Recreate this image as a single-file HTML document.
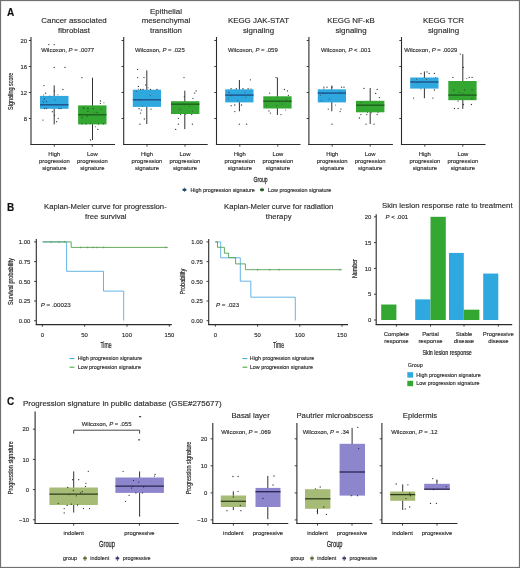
<!DOCTYPE html>
<html><head><meta charset="utf-8"><style>
html,body{margin:0;padding:0;background:#fff;}
body{width:520px;height:568px;overflow:hidden;}
svg{display:block;font-family:"Liberation Sans",sans-serif;will-change:transform;filter:blur(0.3px);}
</style></head><body>
<svg width="520" height="568" viewBox="0 0 520 568">
<rect x="0" y="0" width="520" height="568" fill="#fff"/>
<text x="7.00" y="16.00" font-size="10" text-anchor="start" fill="#111" font-weight="bold" font-style="normal" stroke="#111" stroke-width="0.14">A</text>
<text x="74.00" y="23.10" font-size="7.9" text-anchor="middle" fill="#2a2a2a" font-weight="normal" font-style="normal" stroke="#2a2a2a" stroke-width="0.14">Cancer associated</text>
<text x="74.00" y="32.50" font-size="7.9" text-anchor="middle" fill="#2a2a2a" font-weight="normal" font-style="normal" stroke="#2a2a2a" stroke-width="0.14">fibroblast</text>
<text x="166.00" y="13.70" font-size="7.9" text-anchor="middle" fill="#2a2a2a" font-weight="normal" font-style="normal" stroke="#2a2a2a" stroke-width="0.14">Epithelial</text>
<text x="166.00" y="23.10" font-size="7.9" text-anchor="middle" fill="#2a2a2a" font-weight="normal" font-style="normal" stroke="#2a2a2a" stroke-width="0.14">mesenchymal</text>
<text x="166.00" y="32.50" font-size="7.9" text-anchor="middle" fill="#2a2a2a" font-weight="normal" font-style="normal" stroke="#2a2a2a" stroke-width="0.14">transition</text>
<text x="258.50" y="23.10" font-size="7.9" text-anchor="middle" fill="#2a2a2a" font-weight="normal" font-style="normal" stroke="#2a2a2a" stroke-width="0.14">KEGG JAK-STAT</text>
<text x="258.50" y="32.50" font-size="7.9" text-anchor="middle" fill="#2a2a2a" font-weight="normal" font-style="normal" stroke="#2a2a2a" stroke-width="0.14">signaling</text>
<text x="351.00" y="23.10" font-size="7.9" text-anchor="middle" fill="#2a2a2a" font-weight="normal" font-style="normal" stroke="#2a2a2a" stroke-width="0.14">KEGG NF-κB</text>
<text x="351.00" y="32.50" font-size="7.9" text-anchor="middle" fill="#2a2a2a" font-weight="normal" font-style="normal" stroke="#2a2a2a" stroke-width="0.14">signaling</text>
<text x="443.50" y="23.10" font-size="7.9" text-anchor="middle" fill="#2a2a2a" font-weight="normal" font-style="normal" stroke="#2a2a2a" stroke-width="0.14">KEGG TCR</text>
<text x="443.50" y="32.50" font-size="7.9" text-anchor="middle" fill="#2a2a2a" font-weight="normal" font-style="normal" stroke="#2a2a2a" stroke-width="0.14">signaling</text>
<line x1="31.00" y1="37.00" x2="31.00" y2="145.00" stroke="#2b2b2b" stroke-width="1.1"/>
<line x1="30.45" y1="144.50" x2="115.00" y2="144.50" stroke="#2b2b2b" stroke-width="1.1"/>
<line x1="28.80" y1="40.50" x2="31.00" y2="40.50" stroke="#2b2b2b" stroke-width="0.9"/>
<text x="27.00" y="42.60" font-size="5.9" text-anchor="end" fill="#2a2a2a" font-weight="normal" font-style="normal" stroke="#2a2a2a" stroke-width="0.14">20</text>
<line x1="28.80" y1="66.50" x2="31.00" y2="66.50" stroke="#2b2b2b" stroke-width="0.9"/>
<text x="27.00" y="68.60" font-size="5.9" text-anchor="end" fill="#2a2a2a" font-weight="normal" font-style="normal" stroke="#2a2a2a" stroke-width="0.14">16</text>
<line x1="28.80" y1="92.50" x2="31.00" y2="92.50" stroke="#2b2b2b" stroke-width="0.9"/>
<text x="27.00" y="94.60" font-size="5.9" text-anchor="end" fill="#2a2a2a" font-weight="normal" font-style="normal" stroke="#2a2a2a" stroke-width="0.14">12</text>
<line x1="28.80" y1="118.50" x2="31.00" y2="118.50" stroke="#2b2b2b" stroke-width="0.9"/>
<text x="27.00" y="120.60" font-size="5.9" text-anchor="end" fill="#2a2a2a" font-weight="normal" font-style="normal" stroke="#2a2a2a" stroke-width="0.14">8</text>
<line x1="54.30" y1="144.50" x2="54.30" y2="146.60" stroke="#2b2b2b" stroke-width="0.9"/>
<text x="54.30" y="155.50" font-size="5.9" text-anchor="middle" fill="#2a2a2a" font-weight="normal" font-style="normal" stroke="#2a2a2a" stroke-width="0.14">High</text>
<text x="54.30" y="162.80" font-size="5.9" text-anchor="middle" fill="#2a2a2a" font-weight="normal" font-style="normal" stroke="#2a2a2a" stroke-width="0.14">progression</text>
<text x="54.30" y="170.00" font-size="5.9" text-anchor="middle" fill="#2a2a2a" font-weight="normal" font-style="normal" stroke="#2a2a2a" stroke-width="0.14">signature</text>
<line x1="92.30" y1="144.50" x2="92.30" y2="146.60" stroke="#2b2b2b" stroke-width="0.9"/>
<text x="92.30" y="155.50" font-size="5.9" text-anchor="middle" fill="#2a2a2a" font-weight="normal" font-style="normal" stroke="#2a2a2a" stroke-width="0.14">Low</text>
<text x="92.30" y="162.80" font-size="5.9" text-anchor="middle" fill="#2a2a2a" font-weight="normal" font-style="normal" stroke="#2a2a2a" stroke-width="0.14">progression</text>
<text x="92.30" y="170.00" font-size="5.9" text-anchor="middle" fill="#2a2a2a" font-weight="normal" font-style="normal" stroke="#2a2a2a" stroke-width="0.14">signature</text>
<line x1="123.70" y1="37.00" x2="123.70" y2="145.00" stroke="#2b2b2b" stroke-width="1.1"/>
<line x1="123.15" y1="144.50" x2="207.70" y2="144.50" stroke="#2b2b2b" stroke-width="1.1"/>
<line x1="121.50" y1="40.50" x2="123.70" y2="40.50" stroke="#2b2b2b" stroke-width="0.9"/>
<line x1="121.50" y1="66.50" x2="123.70" y2="66.50" stroke="#2b2b2b" stroke-width="0.9"/>
<line x1="121.50" y1="92.50" x2="123.70" y2="92.50" stroke="#2b2b2b" stroke-width="0.9"/>
<line x1="121.50" y1="118.50" x2="123.70" y2="118.50" stroke="#2b2b2b" stroke-width="0.9"/>
<line x1="147.00" y1="144.50" x2="147.00" y2="146.60" stroke="#2b2b2b" stroke-width="0.9"/>
<text x="147.00" y="155.50" font-size="5.9" text-anchor="middle" fill="#2a2a2a" font-weight="normal" font-style="normal" stroke="#2a2a2a" stroke-width="0.14">High</text>
<text x="147.00" y="162.80" font-size="5.9" text-anchor="middle" fill="#2a2a2a" font-weight="normal" font-style="normal" stroke="#2a2a2a" stroke-width="0.14">progression</text>
<text x="147.00" y="170.00" font-size="5.9" text-anchor="middle" fill="#2a2a2a" font-weight="normal" font-style="normal" stroke="#2a2a2a" stroke-width="0.14">signature</text>
<line x1="185.00" y1="144.50" x2="185.00" y2="146.60" stroke="#2b2b2b" stroke-width="0.9"/>
<text x="185.00" y="155.50" font-size="5.9" text-anchor="middle" fill="#2a2a2a" font-weight="normal" font-style="normal" stroke="#2a2a2a" stroke-width="0.14">Low</text>
<text x="185.00" y="162.80" font-size="5.9" text-anchor="middle" fill="#2a2a2a" font-weight="normal" font-style="normal" stroke="#2a2a2a" stroke-width="0.14">progression</text>
<text x="185.00" y="170.00" font-size="5.9" text-anchor="middle" fill="#2a2a2a" font-weight="normal" font-style="normal" stroke="#2a2a2a" stroke-width="0.14">signature</text>
<line x1="216.50" y1="37.00" x2="216.50" y2="145.00" stroke="#2b2b2b" stroke-width="1.1"/>
<line x1="215.95" y1="144.50" x2="300.50" y2="144.50" stroke="#2b2b2b" stroke-width="1.1"/>
<line x1="214.30" y1="40.50" x2="216.50" y2="40.50" stroke="#2b2b2b" stroke-width="0.9"/>
<line x1="214.30" y1="66.50" x2="216.50" y2="66.50" stroke="#2b2b2b" stroke-width="0.9"/>
<line x1="214.30" y1="92.50" x2="216.50" y2="92.50" stroke="#2b2b2b" stroke-width="0.9"/>
<line x1="214.30" y1="118.50" x2="216.50" y2="118.50" stroke="#2b2b2b" stroke-width="0.9"/>
<line x1="239.80" y1="144.50" x2="239.80" y2="146.60" stroke="#2b2b2b" stroke-width="0.9"/>
<text x="239.80" y="155.50" font-size="5.9" text-anchor="middle" fill="#2a2a2a" font-weight="normal" font-style="normal" stroke="#2a2a2a" stroke-width="0.14">High</text>
<text x="239.80" y="162.80" font-size="5.9" text-anchor="middle" fill="#2a2a2a" font-weight="normal" font-style="normal" stroke="#2a2a2a" stroke-width="0.14">progression</text>
<text x="239.80" y="170.00" font-size="5.9" text-anchor="middle" fill="#2a2a2a" font-weight="normal" font-style="normal" stroke="#2a2a2a" stroke-width="0.14">signature</text>
<line x1="277.80" y1="144.50" x2="277.80" y2="146.60" stroke="#2b2b2b" stroke-width="0.9"/>
<text x="277.80" y="155.50" font-size="5.9" text-anchor="middle" fill="#2a2a2a" font-weight="normal" font-style="normal" stroke="#2a2a2a" stroke-width="0.14">Low</text>
<text x="277.80" y="162.80" font-size="5.9" text-anchor="middle" fill="#2a2a2a" font-weight="normal" font-style="normal" stroke="#2a2a2a" stroke-width="0.14">progression</text>
<text x="277.80" y="170.00" font-size="5.9" text-anchor="middle" fill="#2a2a2a" font-weight="normal" font-style="normal" stroke="#2a2a2a" stroke-width="0.14">signature</text>
<line x1="308.90" y1="37.00" x2="308.90" y2="145.00" stroke="#2b2b2b" stroke-width="1.1"/>
<line x1="308.35" y1="144.50" x2="392.90" y2="144.50" stroke="#2b2b2b" stroke-width="1.1"/>
<line x1="306.70" y1="40.50" x2="308.90" y2="40.50" stroke="#2b2b2b" stroke-width="0.9"/>
<line x1="306.70" y1="66.50" x2="308.90" y2="66.50" stroke="#2b2b2b" stroke-width="0.9"/>
<line x1="306.70" y1="92.50" x2="308.90" y2="92.50" stroke="#2b2b2b" stroke-width="0.9"/>
<line x1="306.70" y1="118.50" x2="308.90" y2="118.50" stroke="#2b2b2b" stroke-width="0.9"/>
<line x1="332.20" y1="144.50" x2="332.20" y2="146.60" stroke="#2b2b2b" stroke-width="0.9"/>
<text x="332.20" y="155.50" font-size="5.9" text-anchor="middle" fill="#2a2a2a" font-weight="normal" font-style="normal" stroke="#2a2a2a" stroke-width="0.14">High</text>
<text x="332.20" y="162.80" font-size="5.9" text-anchor="middle" fill="#2a2a2a" font-weight="normal" font-style="normal" stroke="#2a2a2a" stroke-width="0.14">progression</text>
<text x="332.20" y="170.00" font-size="5.9" text-anchor="middle" fill="#2a2a2a" font-weight="normal" font-style="normal" stroke="#2a2a2a" stroke-width="0.14">signature</text>
<line x1="370.20" y1="144.50" x2="370.20" y2="146.60" stroke="#2b2b2b" stroke-width="0.9"/>
<text x="370.20" y="155.50" font-size="5.9" text-anchor="middle" fill="#2a2a2a" font-weight="normal" font-style="normal" stroke="#2a2a2a" stroke-width="0.14">Low</text>
<text x="370.20" y="162.80" font-size="5.9" text-anchor="middle" fill="#2a2a2a" font-weight="normal" font-style="normal" stroke="#2a2a2a" stroke-width="0.14">progression</text>
<text x="370.20" y="170.00" font-size="5.9" text-anchor="middle" fill="#2a2a2a" font-weight="normal" font-style="normal" stroke="#2a2a2a" stroke-width="0.14">signature</text>
<line x1="401.50" y1="37.00" x2="401.50" y2="145.00" stroke="#2b2b2b" stroke-width="1.1"/>
<line x1="400.95" y1="144.50" x2="485.50" y2="144.50" stroke="#2b2b2b" stroke-width="1.1"/>
<line x1="399.30" y1="40.50" x2="401.50" y2="40.50" stroke="#2b2b2b" stroke-width="0.9"/>
<line x1="399.30" y1="66.50" x2="401.50" y2="66.50" stroke="#2b2b2b" stroke-width="0.9"/>
<line x1="399.30" y1="92.50" x2="401.50" y2="92.50" stroke="#2b2b2b" stroke-width="0.9"/>
<line x1="399.30" y1="118.50" x2="401.50" y2="118.50" stroke="#2b2b2b" stroke-width="0.9"/>
<line x1="424.80" y1="144.50" x2="424.80" y2="146.60" stroke="#2b2b2b" stroke-width="0.9"/>
<text x="424.80" y="155.50" font-size="5.9" text-anchor="middle" fill="#2a2a2a" font-weight="normal" font-style="normal" stroke="#2a2a2a" stroke-width="0.14">High</text>
<text x="424.80" y="162.80" font-size="5.9" text-anchor="middle" fill="#2a2a2a" font-weight="normal" font-style="normal" stroke="#2a2a2a" stroke-width="0.14">progression</text>
<text x="424.80" y="170.00" font-size="5.9" text-anchor="middle" fill="#2a2a2a" font-weight="normal" font-style="normal" stroke="#2a2a2a" stroke-width="0.14">signature</text>
<line x1="462.80" y1="144.50" x2="462.80" y2="146.60" stroke="#2b2b2b" stroke-width="0.9"/>
<text x="462.80" y="155.50" font-size="5.9" text-anchor="middle" fill="#2a2a2a" font-weight="normal" font-style="normal" stroke="#2a2a2a" stroke-width="0.14">Low</text>
<text x="462.80" y="162.80" font-size="5.9" text-anchor="middle" fill="#2a2a2a" font-weight="normal" font-style="normal" stroke="#2a2a2a" stroke-width="0.14">progression</text>
<text x="462.80" y="170.00" font-size="5.9" text-anchor="middle" fill="#2a2a2a" font-weight="normal" font-style="normal" stroke="#2a2a2a" stroke-width="0.14">signature</text>
<text transform="translate(12.90,91.30) rotate(-90) scale(0.78,1)" font-size="7" text-anchor="middle" fill="#2a2a2a" font-weight="normal" stroke="#2a2a2a" stroke-width="0.2">Signaling score</text>
<text x="41.20" y="52.00" font-size="5.95" fill="#2a2a2a" text-anchor="start" stroke="#2a2a2a" stroke-width="0.14">Wilcoxon, <tspan font-style="italic">P</tspan> = .0077</text>
<text x="135.00" y="52.00" font-size="5.95" fill="#2a2a2a" text-anchor="start" stroke="#2a2a2a" stroke-width="0.14">Wilcoxon, <tspan font-style="italic">P</tspan> = .025</text>
<text x="228.00" y="52.00" font-size="5.95" fill="#2a2a2a" text-anchor="start" stroke="#2a2a2a" stroke-width="0.14">Wilcoxon, <tspan font-style="italic">P</tspan> = .059</text>
<text x="321.00" y="52.00" font-size="5.95" fill="#2a2a2a" text-anchor="start" stroke="#2a2a2a" stroke-width="0.14">Wilcoxon, <tspan font-style="italic">P</tspan> &lt; .001</text>
<text x="404.30" y="52.00" font-size="5.95" fill="#2a2a2a" text-anchor="start" stroke="#2a2a2a" stroke-width="0.14">Wilcoxon, <tspan font-style="italic">P</tspan> = .0029</text>
<line x1="54.20" y1="85.40" x2="54.20" y2="124.40" stroke="#333" stroke-width="1.0"/>
<rect x="40.00" y="95.90" width="28.50" height="12.90" fill="#2fa8e0"/>
<line x1="40.00" y1="104.80" x2="68.50" y2="104.80" stroke="#1b4a80" stroke-width="1.3"/>
<circle cx="49.93" cy="96.04" r="0.5" fill="#444"/>
<circle cx="57.95" cy="94.63" r="0.5" fill="#444"/>
<circle cx="55.13" cy="99.92" r="0.5" fill="#444"/>
<circle cx="43.42" cy="102.48" r="0.5" fill="#444"/>
<circle cx="42.92" cy="101.15" r="0.5" fill="#444"/>
<circle cx="43.71" cy="94.96" r="0.5" fill="#444"/>
<circle cx="48.80" cy="44.60" r="0.65" fill="#333"/>
<circle cx="54.20" cy="44.60" r="0.65" fill="#333"/>
<circle cx="54.20" cy="67.40" r="0.65" fill="#333"/>
<circle cx="65.00" cy="67.40" r="0.65" fill="#333"/>
<circle cx="43.90" cy="85.60" r="0.65" fill="#333"/>
<circle cx="62.90" cy="89.50" r="0.65" fill="#333"/>
<circle cx="45.50" cy="93.20" r="0.65" fill="#333"/>
<circle cx="54.50" cy="91.10" r="0.65" fill="#333"/>
<circle cx="42.90" cy="120.10" r="0.65" fill="#333"/>
<circle cx="58.20" cy="118.30" r="0.65" fill="#333"/>
<circle cx="56.60" cy="121.70" r="0.65" fill="#333"/>
<circle cx="52.40" cy="111.70" r="0.65" fill="#333"/>
<circle cx="54.50" cy="115.40" r="0.65" fill="#333"/>
<circle cx="44.40" cy="99.00" r="0.65" fill="#1b4a80"/>
<circle cx="46.50" cy="101.60" r="0.65" fill="#1b4a80"/>
<circle cx="44.40" cy="108.50" r="0.65" fill="#1b4a80"/>
<circle cx="46.50" cy="108.50" r="0.65" fill="#1b4a80"/>
<circle cx="59.00" cy="108.50" r="0.65" fill="#1b4a80"/>
<circle cx="61.00" cy="108.50" r="0.65" fill="#1b4a80"/>
<line x1="92.50" y1="77.70" x2="92.50" y2="140.00" stroke="#333" stroke-width="1.0"/>
<rect x="78.10" y="105.40" width="28.40" height="19.00" fill="#34a732"/>
<line x1="78.10" y1="114.80" x2="106.50" y2="114.80" stroke="#1d5a1d" stroke-width="1.3"/>
<circle cx="90.46" cy="123.59" r="0.5" fill="#444"/>
<circle cx="83.12" cy="107.54" r="0.5" fill="#444"/>
<circle cx="95.41" cy="126.81" r="0.5" fill="#444"/>
<circle cx="94.18" cy="112.15" r="0.5" fill="#444"/>
<circle cx="103.92" cy="102.84" r="0.5" fill="#444"/>
<circle cx="101.05" cy="109.30" r="0.5" fill="#444"/>
<circle cx="81.90" cy="77.70" r="0.65" fill="#333"/>
<circle cx="100.40" cy="101.00" r="0.65" fill="#333"/>
<circle cx="100.40" cy="103.30" r="0.65" fill="#333"/>
<circle cx="83.90" cy="108.50" r="0.65" fill="#1d5a1d"/>
<circle cx="87.90" cy="108.50" r="0.65" fill="#1d5a1d"/>
<circle cx="93.10" cy="108.50" r="0.65" fill="#1d5a1d"/>
<circle cx="87.90" cy="111.20" r="0.65" fill="#1d5a1d"/>
<circle cx="97.10" cy="112.50" r="0.65" fill="#1d5a1d"/>
<circle cx="81.90" cy="117.50" r="0.65" fill="#1d5a1d"/>
<circle cx="87.20" cy="116.20" r="0.65" fill="#1d5a1d"/>
<circle cx="81.90" cy="123.90" r="0.65" fill="#1d5a1d"/>
<circle cx="85.90" cy="123.90" r="0.65" fill="#1d5a1d"/>
<circle cx="98.40" cy="123.90" r="0.65" fill="#1d5a1d"/>
<circle cx="103.30" cy="123.90" r="0.65" fill="#1d5a1d"/>
<circle cx="97.80" cy="129.40" r="0.65" fill="#333"/>
<circle cx="90.50" cy="140.00" r="0.65" fill="#333"/>
<line x1="146.80" y1="70.40" x2="146.80" y2="124.00" stroke="#333" stroke-width="1.0"/>
<rect x="132.80" y="89.70" width="28.20" height="17.20" fill="#2fa8e0"/>
<line x1="132.80" y1="99.80" x2="161.00" y2="99.80" stroke="#1b4a80" stroke-width="1.3"/>
<circle cx="138.29" cy="89.10" r="0.5" fill="#444"/>
<circle cx="142.27" cy="105.91" r="0.5" fill="#444"/>
<circle cx="139.17" cy="100.26" r="0.5" fill="#444"/>
<circle cx="150.26" cy="95.23" r="0.5" fill="#444"/>
<circle cx="148.06" cy="87.77" r="0.5" fill="#444"/>
<circle cx="136.24" cy="91.22" r="0.5" fill="#444"/>
<circle cx="137.60" cy="69.40" r="0.65" fill="#333"/>
<circle cx="137.60" cy="77.60" r="0.65" fill="#333"/>
<circle cx="144.00" cy="77.60" r="0.65" fill="#333"/>
<circle cx="138.40" cy="86.40" r="0.65" fill="#333"/>
<circle cx="145.80" cy="85.00" r="0.65" fill="#333"/>
<circle cx="139.10" cy="108.70" r="0.65" fill="#333"/>
<circle cx="141.30" cy="110.10" r="0.65" fill="#333"/>
<circle cx="151.00" cy="109.10" r="0.65" fill="#333"/>
<circle cx="140.60" cy="113.10" r="0.65" fill="#333"/>
<circle cx="144.30" cy="119.00" r="0.65" fill="#333"/>
<circle cx="139.90" cy="124.20" r="0.65" fill="#333"/>
<circle cx="140.60" cy="89.40" r="0.65" fill="#333"/>
<circle cx="143.00" cy="89.40" r="0.65" fill="#333"/>
<circle cx="150.50" cy="89.40" r="0.65" fill="#333"/>
<circle cx="157.00" cy="89.40" r="0.65" fill="#333"/>
<line x1="184.80" y1="90.70" x2="184.80" y2="129.10" stroke="#333" stroke-width="1.0"/>
<rect x="171.00" y="101.20" width="28.40" height="12.80" fill="#34a732"/>
<line x1="171.00" y1="104.20" x2="199.40" y2="104.20" stroke="#1d5a1d" stroke-width="1.3"/>
<circle cx="189.60" cy="106.30" r="0.5" fill="#444"/>
<circle cx="180.67" cy="109.13" r="0.5" fill="#444"/>
<circle cx="184.06" cy="104.01" r="0.5" fill="#444"/>
<circle cx="192.38" cy="111.17" r="0.5" fill="#444"/>
<circle cx="178.96" cy="108.93" r="0.5" fill="#444"/>
<circle cx="185.81" cy="114.32" r="0.5" fill="#444"/>
<circle cx="184.00" cy="77.60" r="0.65" fill="#333"/>
<circle cx="196.10" cy="90.90" r="0.65" fill="#333"/>
<circle cx="194.70" cy="93.10" r="0.65" fill="#333"/>
<circle cx="184.30" cy="96.80" r="0.65" fill="#333"/>
<circle cx="192.90" cy="98.30" r="0.65" fill="#333"/>
<circle cx="180.60" cy="114.60" r="0.65" fill="#333"/>
<circle cx="178.40" cy="118.30" r="0.65" fill="#333"/>
<circle cx="191.70" cy="114.60" r="0.65" fill="#333"/>
<circle cx="178.40" cy="124.20" r="0.65" fill="#333"/>
<circle cx="192.40" cy="124.20" r="0.65" fill="#333"/>
<circle cx="175.70" cy="129.40" r="0.65" fill="#333"/>
<line x1="239.40" y1="80.00" x2="239.40" y2="111.30" stroke="#333" stroke-width="1.0"/>
<rect x="225.20" y="89.30" width="28.30" height="13.10" fill="#2fa8e0"/>
<line x1="225.20" y1="95.10" x2="253.50" y2="95.10" stroke="#1b4a80" stroke-width="1.3"/>
<circle cx="244.93" cy="91.96" r="0.5" fill="#444"/>
<circle cx="251.02" cy="88.85" r="0.5" fill="#444"/>
<circle cx="237.36" cy="100.57" r="0.5" fill="#444"/>
<circle cx="230.89" cy="95.65" r="0.5" fill="#444"/>
<circle cx="228.15" cy="98.94" r="0.5" fill="#444"/>
<circle cx="245.78" cy="97.19" r="0.5" fill="#444"/>
<circle cx="250.40" cy="79.80" r="0.65" fill="#333"/>
<circle cx="231.10" cy="88.70" r="0.65" fill="#333"/>
<circle cx="236.30" cy="88.70" r="0.65" fill="#333"/>
<circle cx="243.00" cy="88.70" r="0.65" fill="#333"/>
<circle cx="248.10" cy="88.70" r="0.65" fill="#333"/>
<circle cx="229.00" cy="92.40" r="0.65" fill="#1b4a80"/>
<circle cx="231.10" cy="105.70" r="0.65" fill="#333"/>
<circle cx="234.80" cy="105.00" r="0.65" fill="#333"/>
<circle cx="241.50" cy="105.00" r="0.65" fill="#333"/>
<circle cx="234.80" cy="111.60" r="0.65" fill="#333"/>
<circle cx="239.30" cy="124.20" r="0.65" fill="#333"/>
<circle cx="246.70" cy="124.20" r="0.65" fill="#333"/>
<line x1="277.40" y1="77.50" x2="277.40" y2="115.00" stroke="#333" stroke-width="1.0"/>
<rect x="263.30" y="96.30" width="28.30" height="12.20" fill="#34a732"/>
<line x1="263.30" y1="101.20" x2="291.60" y2="101.20" stroke="#1d5a1d" stroke-width="1.3"/>
<circle cx="286.57" cy="99.22" r="0.5" fill="#444"/>
<circle cx="282.20" cy="104.01" r="0.5" fill="#444"/>
<circle cx="279.39" cy="101.65" r="0.5" fill="#444"/>
<circle cx="285.71" cy="110.00" r="0.5" fill="#444"/>
<circle cx="276.82" cy="105.20" r="0.5" fill="#444"/>
<circle cx="266.77" cy="105.84" r="0.5" fill="#444"/>
<circle cx="276.00" cy="77.60" r="0.65" fill="#333"/>
<circle cx="269.60" cy="93.10" r="0.65" fill="#333"/>
<circle cx="284.40" cy="89.40" r="0.65" fill="#333"/>
<circle cx="287.40" cy="90.90" r="0.65" fill="#333"/>
<circle cx="288.40" cy="95.30" r="0.65" fill="#333"/>
<circle cx="268.90" cy="110.90" r="0.65" fill="#333"/>
<circle cx="270.40" cy="113.10" r="0.65" fill="#333"/>
<circle cx="281.00" cy="114.60" r="0.65" fill="#333"/>
<line x1="331.80" y1="85.60" x2="331.80" y2="111.30" stroke="#333" stroke-width="1.0"/>
<rect x="317.80" y="89.30" width="28.20" height="13.10" fill="#2fa8e0"/>
<line x1="317.80" y1="93.10" x2="346.00" y2="93.10" stroke="#1b4a80" stroke-width="1.3"/>
<circle cx="335.46" cy="104.89" r="0.5" fill="#444"/>
<circle cx="339.69" cy="91.90" r="0.5" fill="#444"/>
<circle cx="329.14" cy="98.94" r="0.5" fill="#444"/>
<circle cx="320.35" cy="95.15" r="0.5" fill="#444"/>
<circle cx="323.87" cy="88.83" r="0.5" fill="#444"/>
<circle cx="321.23" cy="100.77" r="0.5" fill="#444"/>
<circle cx="323.90" cy="87.20" r="0.65" fill="#333"/>
<circle cx="327.00" cy="87.20" r="0.65" fill="#333"/>
<circle cx="332.00" cy="87.20" r="0.65" fill="#333"/>
<circle cx="341.60" cy="87.20" r="0.65" fill="#333"/>
<circle cx="344.00" cy="87.20" r="0.65" fill="#333"/>
<circle cx="323.10" cy="93.40" r="0.65" fill="#1b4a80"/>
<circle cx="328.30" cy="109.10" r="0.65" fill="#333"/>
<circle cx="340.90" cy="109.10" r="0.65" fill="#333"/>
<circle cx="340.10" cy="111.60" r="0.65" fill="#333"/>
<circle cx="332.00" cy="124.20" r="0.65" fill="#333"/>
<line x1="370.20" y1="88.00" x2="370.20" y2="124.00" stroke="#333" stroke-width="1.0"/>
<rect x="356.00" y="100.80" width="28.40" height="11.50" fill="#34a732"/>
<line x1="356.00" y1="105.20" x2="384.40" y2="105.20" stroke="#1d5a1d" stroke-width="1.3"/>
<circle cx="361.16" cy="102.49" r="0.5" fill="#444"/>
<circle cx="367.54" cy="112.53" r="0.5" fill="#444"/>
<circle cx="359.97" cy="105.73" r="0.5" fill="#444"/>
<circle cx="371.41" cy="112.72" r="0.5" fill="#444"/>
<circle cx="377.99" cy="112.41" r="0.5" fill="#444"/>
<circle cx="364.79" cy="105.19" r="0.5" fill="#444"/>
<circle cx="363.90" cy="88.40" r="0.65" fill="#333"/>
<circle cx="377.20" cy="89.40" r="0.65" fill="#333"/>
<circle cx="375.70" cy="93.40" r="0.65" fill="#333"/>
<circle cx="379.40" cy="97.60" r="0.65" fill="#333"/>
<circle cx="360.90" cy="114.60" r="0.65" fill="#333"/>
<circle cx="366.80" cy="114.60" r="0.65" fill="#333"/>
<circle cx="377.20" cy="114.60" r="0.65" fill="#333"/>
<circle cx="359.40" cy="118.00" r="0.65" fill="#333"/>
<circle cx="366.00" cy="124.20" r="0.65" fill="#333"/>
<circle cx="374.00" cy="124.20" r="0.65" fill="#333"/>
<line x1="424.40" y1="71.40" x2="424.40" y2="98.20" stroke="#333" stroke-width="1.0"/>
<rect x="410.20" y="77.50" width="28.30" height="11.10" fill="#2fa8e0"/>
<line x1="410.20" y1="82.00" x2="438.50" y2="82.00" stroke="#1b4a80" stroke-width="1.3"/>
<circle cx="420.92" cy="89.02" r="0.5" fill="#444"/>
<circle cx="435.47" cy="77.63" r="0.5" fill="#444"/>
<circle cx="416.48" cy="78.88" r="0.5" fill="#444"/>
<circle cx="417.87" cy="82.82" r="0.5" fill="#444"/>
<circle cx="426.52" cy="79.36" r="0.5" fill="#444"/>
<circle cx="412.30" cy="81.79" r="0.5" fill="#444"/>
<circle cx="421.00" cy="73.70" r="0.65" fill="#333"/>
<circle cx="427.00" cy="71.90" r="0.65" fill="#333"/>
<circle cx="429.20" cy="73.40" r="0.65" fill="#333"/>
<circle cx="434.40" cy="73.40" r="0.65" fill="#333"/>
<circle cx="413.60" cy="98.10" r="0.65" fill="#333"/>
<circle cx="432.90" cy="98.10" r="0.65" fill="#333"/>
<circle cx="434.40" cy="90.00" r="0.65" fill="#333"/>
<line x1="462.80" y1="54.20" x2="462.80" y2="108.90" stroke="#333" stroke-width="1.0"/>
<rect x="448.30" y="81.00" width="28.30" height="19.20" fill="#34a732"/>
<line x1="448.30" y1="95.10" x2="476.60" y2="95.10" stroke="#1d5a1d" stroke-width="1.3"/>
<circle cx="459.27" cy="92.38" r="0.5" fill="#444"/>
<circle cx="473.46" cy="95.72" r="0.5" fill="#444"/>
<circle cx="462.83" cy="93.76" r="0.5" fill="#444"/>
<circle cx="466.73" cy="78.61" r="0.5" fill="#444"/>
<circle cx="472.16" cy="98.13" r="0.5" fill="#444"/>
<circle cx="471.55" cy="98.61" r="0.5" fill="#444"/>
<circle cx="460.30" cy="54.10" r="0.65" fill="#333"/>
<circle cx="463.30" cy="67.50" r="0.65" fill="#333"/>
<circle cx="452.90" cy="77.40" r="0.65" fill="#333"/>
<circle cx="469.20" cy="77.40" r="0.65" fill="#333"/>
<circle cx="472.10" cy="77.40" r="0.65" fill="#333"/>
<circle cx="453.90" cy="90.00" r="0.65" fill="#1d5a1d"/>
<circle cx="464.70" cy="90.00" r="0.65" fill="#1d5a1d"/>
<circle cx="472.10" cy="90.00" r="0.65" fill="#1d5a1d"/>
<circle cx="458.10" cy="101.10" r="0.65" fill="#333"/>
<circle cx="463.30" cy="104.50" r="0.65" fill="#333"/>
<circle cx="471.40" cy="104.50" r="0.65" fill="#333"/>
<circle cx="454.40" cy="108.50" r="0.65" fill="#333"/>
<circle cx="458.10" cy="108.50" r="0.65" fill="#333"/>
<text transform="translate(260.60,181.70) scale(0.69,1)" font-size="7.4" text-anchor="middle" fill="#2a2a2a" stroke="#2a2a2a" stroke-width="0.25">Group</text>
<line x1="184.50" y1="187.60" x2="184.50" y2="192.00" stroke="#333" stroke-width="0.6"/>
<rect x="182.70" y="188.60" width="3.60" height="2.40" fill="#2a6a9a"/>
<line x1="182.70" y1="189.80" x2="186.30" y2="189.80" stroke="#102a50" stroke-width="0.9"/>
<text x="190.40" y="191.80" font-size="5.4" text-anchor="start" fill="#2a2a2a" font-weight="normal" font-style="normal" stroke="#2a2a2a" stroke-width="0.14">High progression signature</text>
<line x1="262.00" y1="187.60" x2="262.00" y2="192.00" stroke="#333" stroke-width="0.6"/>
<rect x="260.20" y="188.60" width="3.60" height="2.40" fill="#2a7a2a"/>
<line x1="260.20" y1="189.80" x2="263.80" y2="189.80" stroke="#103a10" stroke-width="0.9"/>
<text x="268.00" y="191.80" font-size="5.4" text-anchor="start" fill="#2a2a2a" font-weight="normal" font-style="normal" stroke="#2a2a2a" stroke-width="0.14">Low progression signature</text>
<text x="7.00" y="211.00" font-size="10" text-anchor="start" fill="#111" font-weight="bold" font-style="normal" stroke="#111" stroke-width="0.14">B</text>
<text x="105.40" y="208.80" font-size="7.7" text-anchor="middle" fill="#2a2a2a" font-weight="normal" font-style="normal" stroke="#2a2a2a" stroke-width="0.14">Kaplan-Meier curve for progression-</text>
<text x="105.80" y="218.60" font-size="7.7" text-anchor="middle" fill="#2a2a2a" font-weight="normal" font-style="normal" stroke="#2a2a2a" stroke-width="0.14">free survival</text>
<text x="278.70" y="208.80" font-size="7.7" text-anchor="middle" fill="#2a2a2a" font-weight="normal" font-style="normal" stroke="#2a2a2a" stroke-width="0.14">Kaplan-Meier curve for radiation</text>
<text x="278.70" y="219.00" font-size="7.7" text-anchor="middle" fill="#2a2a2a" font-weight="normal" font-style="normal" stroke="#2a2a2a" stroke-width="0.14">therapy</text>
<line x1="36.30" y1="238.90" x2="36.30" y2="325.10" stroke="#2b2b2b" stroke-width="1.1"/>
<line x1="35.75" y1="324.60" x2="171.80" y2="324.60" stroke="#2b2b2b" stroke-width="1.1"/>
<line x1="34.10" y1="241.90" x2="36.30" y2="241.90" stroke="#2b2b2b" stroke-width="0.9"/>
<text x="30.30" y="244.00" font-size="5.9" text-anchor="end" fill="#2a2a2a" font-weight="normal" font-style="normal" stroke="#2a2a2a" stroke-width="0.14">1.00</text>
<line x1="34.10" y1="261.60" x2="36.30" y2="261.60" stroke="#2b2b2b" stroke-width="0.9"/>
<text x="30.30" y="263.70" font-size="5.9" text-anchor="end" fill="#2a2a2a" font-weight="normal" font-style="normal" stroke="#2a2a2a" stroke-width="0.14">0.75</text>
<line x1="34.10" y1="281.40" x2="36.30" y2="281.40" stroke="#2b2b2b" stroke-width="0.9"/>
<text x="30.30" y="283.50" font-size="5.9" text-anchor="end" fill="#2a2a2a" font-weight="normal" font-style="normal" stroke="#2a2a2a" stroke-width="0.14">0.50</text>
<line x1="34.10" y1="301.00" x2="36.30" y2="301.00" stroke="#2b2b2b" stroke-width="0.9"/>
<text x="30.30" y="303.10" font-size="5.9" text-anchor="end" fill="#2a2a2a" font-weight="normal" font-style="normal" stroke="#2a2a2a" stroke-width="0.14">0.25</text>
<line x1="34.10" y1="320.70" x2="36.30" y2="320.70" stroke="#2b2b2b" stroke-width="0.9"/>
<text x="30.30" y="322.80" font-size="5.9" text-anchor="end" fill="#2a2a2a" font-weight="normal" font-style="normal" stroke="#2a2a2a" stroke-width="0.14">0.00</text>
<line x1="42.30" y1="324.60" x2="42.30" y2="326.70" stroke="#2b2b2b" stroke-width="0.9"/>
<text x="42.30" y="336.70" font-size="5.9" text-anchor="middle" fill="#2a2a2a" font-weight="normal" font-style="normal" stroke="#2a2a2a" stroke-width="0.14">0</text>
<line x1="84.60" y1="324.60" x2="84.60" y2="326.70" stroke="#2b2b2b" stroke-width="0.9"/>
<text x="84.60" y="336.70" font-size="5.9" text-anchor="middle" fill="#2a2a2a" font-weight="normal" font-style="normal" stroke="#2a2a2a" stroke-width="0.14">50</text>
<line x1="127.00" y1="324.60" x2="127.00" y2="326.70" stroke="#2b2b2b" stroke-width="0.9"/>
<text x="127.00" y="336.70" font-size="5.9" text-anchor="middle" fill="#2a2a2a" font-weight="normal" font-style="normal" stroke="#2a2a2a" stroke-width="0.14">100</text>
<line x1="169.30" y1="324.60" x2="169.30" y2="326.70" stroke="#2b2b2b" stroke-width="0.9"/>
<text x="169.30" y="336.70" font-size="5.9" text-anchor="middle" fill="#2a2a2a" font-weight="normal" font-style="normal" stroke="#2a2a2a" stroke-width="0.14">150</text>
<line x1="208.70" y1="238.90" x2="208.70" y2="325.10" stroke="#2b2b2b" stroke-width="1.1"/>
<line x1="208.15" y1="324.60" x2="348.00" y2="324.60" stroke="#2b2b2b" stroke-width="1.1"/>
<line x1="206.50" y1="241.90" x2="208.70" y2="241.90" stroke="#2b2b2b" stroke-width="0.9"/>
<text x="202.70" y="244.00" font-size="5.9" text-anchor="end" fill="#2a2a2a" font-weight="normal" font-style="normal" stroke="#2a2a2a" stroke-width="0.14">1.00</text>
<line x1="206.50" y1="261.60" x2="208.70" y2="261.60" stroke="#2b2b2b" stroke-width="0.9"/>
<text x="202.70" y="263.70" font-size="5.9" text-anchor="end" fill="#2a2a2a" font-weight="normal" font-style="normal" stroke="#2a2a2a" stroke-width="0.14">0.75</text>
<line x1="206.50" y1="281.40" x2="208.70" y2="281.40" stroke="#2b2b2b" stroke-width="0.9"/>
<text x="202.70" y="283.50" font-size="5.9" text-anchor="end" fill="#2a2a2a" font-weight="normal" font-style="normal" stroke="#2a2a2a" stroke-width="0.14">0.50</text>
<line x1="206.50" y1="301.00" x2="208.70" y2="301.00" stroke="#2b2b2b" stroke-width="0.9"/>
<text x="202.70" y="303.10" font-size="5.9" text-anchor="end" fill="#2a2a2a" font-weight="normal" font-style="normal" stroke="#2a2a2a" stroke-width="0.14">0.25</text>
<line x1="206.50" y1="320.70" x2="208.70" y2="320.70" stroke="#2b2b2b" stroke-width="0.9"/>
<text x="202.70" y="322.80" font-size="5.9" text-anchor="end" fill="#2a2a2a" font-weight="normal" font-style="normal" stroke="#2a2a2a" stroke-width="0.14">0.00</text>
<line x1="215.30" y1="324.60" x2="215.30" y2="326.70" stroke="#2b2b2b" stroke-width="0.9"/>
<text x="215.30" y="336.70" font-size="5.9" text-anchor="middle" fill="#2a2a2a" font-weight="normal" font-style="normal" stroke="#2a2a2a" stroke-width="0.14">0</text>
<line x1="257.60" y1="324.60" x2="257.60" y2="326.70" stroke="#2b2b2b" stroke-width="0.9"/>
<text x="257.60" y="336.70" font-size="5.9" text-anchor="middle" fill="#2a2a2a" font-weight="normal" font-style="normal" stroke="#2a2a2a" stroke-width="0.14">50</text>
<line x1="299.80" y1="324.60" x2="299.80" y2="326.70" stroke="#2b2b2b" stroke-width="0.9"/>
<text x="299.80" y="336.70" font-size="5.9" text-anchor="middle" fill="#2a2a2a" font-weight="normal" font-style="normal" stroke="#2a2a2a" stroke-width="0.14">100</text>
<line x1="342.00" y1="324.60" x2="342.00" y2="326.70" stroke="#2b2b2b" stroke-width="0.9"/>
<text x="342.00" y="336.70" font-size="5.9" text-anchor="middle" fill="#2a2a2a" font-weight="normal" font-style="normal" stroke="#2a2a2a" stroke-width="0.14">150</text>
<text transform="translate(12.90,281.60) rotate(-90) scale(0.795,1)" font-size="7" text-anchor="middle" fill="#2a2a2a" font-weight="normal" stroke="#2a2a2a" stroke-width="0.2">Survival probability</text>
<text transform="translate(185.30,281.60) rotate(-90) scale(0.795,1)" font-size="7" text-anchor="middle" fill="#2a2a2a" font-weight="normal" stroke="#2a2a2a" stroke-width="0.2">Probability</text>
<text transform="translate(106.00,347.80) scale(0.555,1)" font-size="9.2" text-anchor="middle" fill="#2a2a2a" stroke="#2a2a2a" stroke-width="0.25">Time</text>
<text transform="translate(278.50,347.80) scale(0.555,1)" font-size="9.2" text-anchor="middle" fill="#2a2a2a" stroke="#2a2a2a" stroke-width="0.25">Time</text>
<text x="40.70" y="307.30" font-size="6.2" fill="#2a2a2a" text-anchor="start" stroke="#2a2a2a" stroke-width="0.14"><tspan font-style="italic">P</tspan>  = .00023</text>
<text x="216.00" y="307.30" font-size="6.2" fill="#2a2a2a" text-anchor="start" stroke="#2a2a2a" stroke-width="0.14"><tspan font-style="italic">P</tspan> = .023</text>
<polyline points="42.60,241.90 66.60,241.90 66.60,271.30 103.50,271.30 103.50,291.10 123.70,291.10 123.70,320.50" fill="none" stroke="#55aee0" stroke-width="0.9" stroke-linejoin="miter"/>
<polyline points="42.60,241.90 71.20,241.90 71.20,247.40 167.80,247.40" fill="none" stroke="#52a04c" stroke-width="0.9" stroke-linejoin="miter"/>
<line x1="51.00" y1="240.90" x2="51.00" y2="242.90" stroke="#4a8a4a" stroke-width="0.5"/>
<line x1="59.00" y1="240.90" x2="59.00" y2="242.90" stroke="#4a8a4a" stroke-width="0.5"/>
<line x1="64.60" y1="240.90" x2="64.60" y2="242.90" stroke="#4a8a4a" stroke-width="0.5"/>
<line x1="80.80" y1="246.40" x2="80.80" y2="248.40" stroke="#4a8a4a" stroke-width="0.5"/>
<line x1="87.60" y1="246.40" x2="87.60" y2="248.40" stroke="#4a8a4a" stroke-width="0.5"/>
<line x1="93.00" y1="246.40" x2="93.00" y2="248.40" stroke="#4a8a4a" stroke-width="0.5"/>
<line x1="97.00" y1="246.40" x2="97.00" y2="248.40" stroke="#4a8a4a" stroke-width="0.5"/>
<line x1="103.70" y1="246.40" x2="103.70" y2="248.40" stroke="#4a8a4a" stroke-width="0.5"/>
<line x1="165.70" y1="246.40" x2="165.70" y2="248.40" stroke="#4a8a4a" stroke-width="0.5"/>
<polyline points="215.30,241.90 220.70,241.90 220.70,257.80 240.30,257.80 240.30,281.20 250.80,281.20 250.80,297.20 295.30,297.20 295.30,320.50" fill="none" stroke="#55aee0" stroke-width="0.9" stroke-linejoin="miter"/>
<polyline points="215.30,241.90 217.50,241.90 217.50,247.30 224.40,247.30 224.40,253.20 228.60,253.20 228.60,257.60 235.60,257.60 235.60,263.90 245.40,263.90 245.40,269.70 341.90,269.70" fill="none" stroke="#52a04c" stroke-width="0.9" stroke-linejoin="miter"/>
<line x1="257.60" y1="268.70" x2="257.60" y2="270.70" stroke="#3a7a3a" stroke-width="0.5"/>
<line x1="269.70" y1="268.70" x2="269.70" y2="270.70" stroke="#3a7a3a" stroke-width="0.5"/>
<line x1="279.10" y1="268.70" x2="279.10" y2="270.70" stroke="#3a7a3a" stroke-width="0.5"/>
<line x1="339.80" y1="268.70" x2="339.80" y2="270.70" stroke="#3a7a3a" stroke-width="0.5"/>
<line x1="69.60" y1="358.60" x2="74.40" y2="358.60" stroke="#2fa8e0" stroke-width="1.0"/>
<text x="77.70" y="360.40" font-size="5.4" text-anchor="start" fill="#2a2a2a" font-weight="normal" font-style="normal" stroke="#2a2a2a" stroke-width="0.14">High progression signature</text>
<line x1="69.60" y1="367.20" x2="74.40" y2="367.20" stroke="#34a732" stroke-width="1.0"/>
<text x="77.70" y="369.10" font-size="5.4" text-anchor="start" fill="#2a2a2a" font-weight="normal" font-style="normal" stroke="#2a2a2a" stroke-width="0.14">Low progression signature</text>
<line x1="242.50" y1="358.60" x2="247.30" y2="358.60" stroke="#2fa8e0" stroke-width="1.0"/>
<text x="249.80" y="360.40" font-size="5.4" text-anchor="start" fill="#2a2a2a" font-weight="normal" font-style="normal" stroke="#2a2a2a" stroke-width="0.14">High progression signature</text>
<line x1="242.50" y1="367.20" x2="247.30" y2="367.20" stroke="#34a732" stroke-width="1.0"/>
<text x="249.80" y="369.10" font-size="5.4" text-anchor="start" fill="#2a2a2a" font-weight="normal" font-style="normal" stroke="#2a2a2a" stroke-width="0.14">Low progression signature</text>
<text x="447.30" y="208.00" font-size="7.75" text-anchor="middle" fill="#2a2a2a" font-weight="normal" font-style="normal" stroke="#2a2a2a" stroke-width="0.14">Skin lesion response rate to treatment</text>
<line x1="376.20" y1="214.30" x2="376.20" y2="325.10" stroke="#2b2b2b" stroke-width="1.1"/>
<line x1="375.65" y1="324.60" x2="512.20" y2="324.60" stroke="#2b2b2b" stroke-width="1.1"/>
<line x1="374.00" y1="320.00" x2="376.20" y2="320.00" stroke="#2b2b2b" stroke-width="0.9"/>
<text x="371.20" y="322.10" font-size="5.9" text-anchor="end" fill="#2a2a2a" font-weight="normal" font-style="normal" stroke="#2a2a2a" stroke-width="0.14">0</text>
<line x1="374.00" y1="294.20" x2="376.20" y2="294.20" stroke="#2b2b2b" stroke-width="0.9"/>
<text x="371.20" y="296.30" font-size="5.9" text-anchor="end" fill="#2a2a2a" font-weight="normal" font-style="normal" stroke="#2a2a2a" stroke-width="0.14">5</text>
<line x1="374.00" y1="268.40" x2="376.20" y2="268.40" stroke="#2b2b2b" stroke-width="0.9"/>
<text x="371.20" y="270.50" font-size="5.9" text-anchor="end" fill="#2a2a2a" font-weight="normal" font-style="normal" stroke="#2a2a2a" stroke-width="0.14">10</text>
<line x1="374.00" y1="242.60" x2="376.20" y2="242.60" stroke="#2b2b2b" stroke-width="0.9"/>
<text x="371.20" y="244.70" font-size="5.9" text-anchor="end" fill="#2a2a2a" font-weight="normal" font-style="normal" stroke="#2a2a2a" stroke-width="0.14">15</text>
<line x1="374.00" y1="216.80" x2="376.20" y2="216.80" stroke="#2b2b2b" stroke-width="0.9"/>
<text x="371.20" y="218.90" font-size="5.9" text-anchor="end" fill="#2a2a2a" font-weight="normal" font-style="normal" stroke="#2a2a2a" stroke-width="0.14">20</text>
<rect x="381.20" y="304.52" width="15.20" height="15.48" fill="#34a732"/>
<rect x="415.20" y="299.36" width="15.30" height="20.64" fill="#2fa8e0"/>
<rect x="430.50" y="216.80" width="15.30" height="103.20" fill="#34a732"/>
<rect x="449.00" y="252.92" width="14.80" height="67.08" fill="#2fa8e0"/>
<rect x="463.80" y="309.68" width="15.60" height="10.32" fill="#34a732"/>
<rect x="483.20" y="273.56" width="15.10" height="46.44" fill="#2fa8e0"/>
<line x1="396.40" y1="324.50" x2="396.40" y2="326.60" stroke="#2b2b2b" stroke-width="0.9"/>
<text x="396.40" y="335.80" font-size="5.9" text-anchor="middle" fill="#2a2a2a" font-weight="normal" font-style="normal" stroke="#2a2a2a" stroke-width="0.14">Complete</text>
<text x="396.40" y="342.80" font-size="5.9" text-anchor="middle" fill="#2a2a2a" font-weight="normal" font-style="normal" stroke="#2a2a2a" stroke-width="0.14">response</text>
<line x1="430.50" y1="324.50" x2="430.50" y2="326.60" stroke="#2b2b2b" stroke-width="0.9"/>
<text x="430.50" y="335.80" font-size="5.9" text-anchor="middle" fill="#2a2a2a" font-weight="normal" font-style="normal" stroke="#2a2a2a" stroke-width="0.14">Partial</text>
<text x="430.50" y="342.80" font-size="5.9" text-anchor="middle" fill="#2a2a2a" font-weight="normal" font-style="normal" stroke="#2a2a2a" stroke-width="0.14">response</text>
<line x1="464.00" y1="324.50" x2="464.00" y2="326.60" stroke="#2b2b2b" stroke-width="0.9"/>
<text x="464.00" y="335.80" font-size="5.9" text-anchor="middle" fill="#2a2a2a" font-weight="normal" font-style="normal" stroke="#2a2a2a" stroke-width="0.14">Stable</text>
<text x="464.00" y="342.80" font-size="5.9" text-anchor="middle" fill="#2a2a2a" font-weight="normal" font-style="normal" stroke="#2a2a2a" stroke-width="0.14">disease</text>
<line x1="498.30" y1="324.50" x2="498.30" y2="326.60" stroke="#2b2b2b" stroke-width="0.9"/>
<text x="498.30" y="335.80" font-size="5.9" text-anchor="middle" fill="#2a2a2a" font-weight="normal" font-style="normal" stroke="#2a2a2a" stroke-width="0.14">Progressive</text>
<text x="498.30" y="342.80" font-size="5.9" text-anchor="middle" fill="#2a2a2a" font-weight="normal" font-style="normal" stroke="#2a2a2a" stroke-width="0.14">disease</text>
<text transform="translate(356.80,268.60) rotate(-90) scale(0.76,1)" font-size="7" text-anchor="middle" fill="#2a2a2a" font-weight="normal" stroke="#2a2a2a" stroke-width="0.2">Number</text>
<text x="385.60" y="219.20" font-size="6.0" fill="#2a2a2a" text-anchor="start" stroke="#2a2a2a" stroke-width="0.14"><tspan font-style="italic">P</tspan> &lt; .001</text>
<text transform="translate(447.10,354.80) scale(0.715,1)" font-size="7.5" text-anchor="middle" fill="#2a2a2a" stroke="#2a2a2a" stroke-width="0.25">Skin lesion response</text>
<text x="407.70" y="366.90" font-size="5.4" text-anchor="start" fill="#2a2a2a" font-weight="normal" font-style="normal" stroke="#2a2a2a" stroke-width="0.14">Group</text>
<rect x="407.30" y="372.20" width="5.80" height="5.40" fill="#2fa8e0"/>
<text x="416.30" y="376.50" font-size="5.4" text-anchor="start" fill="#2a2a2a" font-weight="normal" font-style="normal" stroke="#2a2a2a" stroke-width="0.14">High progression signature</text>
<rect x="407.30" y="380.80" width="5.80" height="5.40" fill="#34a732"/>
<text x="416.30" y="385.20" font-size="5.4" text-anchor="start" fill="#2a2a2a" font-weight="normal" font-style="normal" stroke="#2a2a2a" stroke-width="0.14">Low progression signature</text>
<text x="7.00" y="405.30" font-size="10" text-anchor="start" fill="#111" font-weight="bold" font-style="normal" stroke="#111" stroke-width="0.14">C</text>
<text x="23.00" y="405.90" font-size="7.95" text-anchor="start" fill="#2a2a2a" font-weight="normal" font-style="normal" stroke="#2a2a2a" stroke-width="0.14">Progression signature in public database (GSE#275677)</text>
<line x1="35.10" y1="411.60" x2="35.10" y2="524.00" stroke="#2b2b2b" stroke-width="1.1"/>
<line x1="34.55" y1="523.50" x2="178.80" y2="523.50" stroke="#2b2b2b" stroke-width="1.1"/>
<line x1="32.90" y1="429.20" x2="35.10" y2="429.20" stroke="#2b2b2b" stroke-width="0.9"/>
<text x="29.10" y="431.30" font-size="5.9" text-anchor="end" fill="#2a2a2a" font-weight="normal" font-style="normal" stroke="#2a2a2a" stroke-width="0.14">20</text>
<line x1="32.90" y1="459.40" x2="35.10" y2="459.40" stroke="#2b2b2b" stroke-width="0.9"/>
<text x="29.10" y="461.50" font-size="5.9" text-anchor="end" fill="#2a2a2a" font-weight="normal" font-style="normal" stroke="#2a2a2a" stroke-width="0.14">10</text>
<line x1="32.90" y1="489.60" x2="35.10" y2="489.60" stroke="#2b2b2b" stroke-width="0.9"/>
<text x="29.10" y="491.70" font-size="5.9" text-anchor="end" fill="#2a2a2a" font-weight="normal" font-style="normal" stroke="#2a2a2a" stroke-width="0.14">0</text>
<line x1="32.90" y1="519.80" x2="35.10" y2="519.80" stroke="#2b2b2b" stroke-width="0.9"/>
<text x="29.10" y="521.90" font-size="5.9" text-anchor="end" fill="#2a2a2a" font-weight="normal" font-style="normal" stroke="#2a2a2a" stroke-width="0.14">−10</text>
<text transform="translate(13.00,467.70) rotate(-90) scale(0.78,1)" font-size="7" text-anchor="middle" fill="#2a2a2a" font-weight="normal" stroke="#2a2a2a" stroke-width="0.2">Progression signature</text>
<line x1="73.70" y1="471.40" x2="73.70" y2="512.50" stroke="#333" stroke-width="1.0"/>
<rect x="49.40" y="487.50" width="48.50" height="17.50" fill="#a6bc76"/>
<line x1="49.40" y1="494.20" x2="97.90" y2="494.20" stroke="#2d3a1a" stroke-width="1.3"/>
<circle cx="88.30" cy="471.30" r="0.65" fill="#333"/>
<circle cx="72.60" cy="479.70" r="0.65" fill="#333"/>
<circle cx="78.70" cy="479.70" r="0.65" fill="#333"/>
<circle cx="85.90" cy="483.30" r="0.65" fill="#333"/>
<circle cx="85.40" cy="486.40" r="0.65" fill="#333"/>
<circle cx="67.80" cy="487.40" r="0.65" fill="#333"/>
<circle cx="73.40" cy="490.50" r="0.65" fill="#2d3a1a"/>
<circle cx="82.30" cy="491.70" r="0.65" fill="#2d3a1a"/>
<circle cx="80.60" cy="492.90" r="0.65" fill="#2d3a1a"/>
<circle cx="69.00" cy="494.60" r="0.65" fill="#2d3a1a"/>
<circle cx="76.30" cy="495.80" r="0.65" fill="#2d3a1a"/>
<circle cx="58.20" cy="503.30" r="0.65" fill="#2d3a1a"/>
<circle cx="67.10" cy="505.40" r="0.65" fill="#333"/>
<circle cx="71.40" cy="504.20" r="0.65" fill="#2d3a1a"/>
<circle cx="77.50" cy="505.00" r="0.65" fill="#2d3a1a"/>
<circle cx="64.20" cy="508.60" r="0.65" fill="#333"/>
<circle cx="83.50" cy="508.60" r="0.65" fill="#333"/>
<circle cx="89.50" cy="508.60" r="0.65" fill="#333"/>
<circle cx="64.20" cy="512.90" r="0.65" fill="#333"/>
<line x1="139.60" y1="471.40" x2="139.60" y2="516.30" stroke="#333" stroke-width="1.0"/>
<rect x="115.40" y="477.50" width="48.50" height="15.40" fill="#8e86cc"/>
<line x1="115.40" y1="486.20" x2="163.90" y2="486.20" stroke="#2a2450" stroke-width="1.3"/>
<circle cx="139.60" cy="439.80" r="0.65" fill="#333"/>
<circle cx="138.60" cy="439.80" r="0.65" fill="#333"/>
<circle cx="139.60" cy="416.70" r="0.65" fill="#333"/>
<circle cx="140.60" cy="416.70" r="0.65" fill="#333"/>
<circle cx="123.10" cy="471.30" r="0.65" fill="#333"/>
<circle cx="155.10" cy="474.40" r="0.65" fill="#333"/>
<circle cx="154.40" cy="476.10" r="0.65" fill="#333"/>
<circle cx="133.50" cy="480.40" r="0.65" fill="#2a2450"/>
<circle cx="138.80" cy="482.10" r="0.65" fill="#2a2450"/>
<circle cx="132.70" cy="486.40" r="0.65" fill="#2a2450"/>
<circle cx="131.50" cy="488.10" r="0.65" fill="#2a2450"/>
<circle cx="143.60" cy="486.90" r="0.65" fill="#2a2450"/>
<circle cx="135.90" cy="492.90" r="0.65" fill="#2a2450"/>
<circle cx="142.40" cy="492.90" r="0.65" fill="#2a2450"/>
<circle cx="129.10" cy="495.30" r="0.65" fill="#333"/>
<circle cx="125.50" cy="501.30" r="0.65" fill="#333"/>
<circle cx="139.60" cy="515.80" r="0.65" fill="#333"/>
<polyline points="73.70,433.70 73.70,430.20 139.60,430.20 139.60,433.70" fill="none" stroke="#333" stroke-width="0.9" stroke-linejoin="miter"/>
<text x="106.60" y="425.60" font-size="5.95" fill="#2a2a2a" text-anchor="middle" stroke="#2a2a2a" stroke-width="0.14">Wilcoxon, <tspan font-style="italic">P</tspan> = .055</text>
<line x1="73.70" y1="523.50" x2="73.70" y2="525.60" stroke="#2b2b2b" stroke-width="0.9"/>
<text x="73.70" y="534.70" font-size="5.9" text-anchor="middle" fill="#2a2a2a" font-weight="normal" font-style="normal" stroke="#2a2a2a" stroke-width="0.14">indolent</text>
<line x1="139.40" y1="523.50" x2="139.40" y2="525.60" stroke="#2b2b2b" stroke-width="0.9"/>
<text x="139.40" y="534.70" font-size="5.9" text-anchor="middle" fill="#2a2a2a" font-weight="normal" font-style="normal" stroke="#2a2a2a" stroke-width="0.14">progressive</text>
<text transform="translate(107.00,546.70) scale(0.64,1)" font-size="8.9" text-anchor="middle" fill="#2a2a2a" stroke="#2a2a2a" stroke-width="0.25">Group</text>
<text x="63.10" y="559.60" font-size="5.4" text-anchor="start" fill="#2a2a2a" font-weight="normal" font-style="normal" stroke="#2a2a2a" stroke-width="0.14">group</text>
<line x1="212.80" y1="423.10" x2="212.80" y2="524.00" stroke="#2b2b2b" stroke-width="1.1"/>
<line x1="212.25" y1="523.50" x2="288.30" y2="523.50" stroke="#2b2b2b" stroke-width="1.1"/>
<line x1="210.60" y1="438.80" x2="212.80" y2="438.80" stroke="#2b2b2b" stroke-width="0.9"/>
<text x="207.30" y="440.90" font-size="5.9" text-anchor="end" fill="#2a2a2a" font-weight="normal" font-style="normal" stroke="#2a2a2a" stroke-width="0.14">20</text>
<line x1="210.60" y1="465.80" x2="212.80" y2="465.80" stroke="#2b2b2b" stroke-width="0.9"/>
<text x="207.30" y="467.90" font-size="5.9" text-anchor="end" fill="#2a2a2a" font-weight="normal" font-style="normal" stroke="#2a2a2a" stroke-width="0.14">10</text>
<line x1="210.60" y1="492.90" x2="212.80" y2="492.90" stroke="#2b2b2b" stroke-width="0.9"/>
<text x="207.30" y="495.00" font-size="5.9" text-anchor="end" fill="#2a2a2a" font-weight="normal" font-style="normal" stroke="#2a2a2a" stroke-width="0.14">0</text>
<line x1="210.60" y1="519.90" x2="212.80" y2="519.90" stroke="#2b2b2b" stroke-width="0.9"/>
<text x="207.30" y="522.00" font-size="5.9" text-anchor="end" fill="#2a2a2a" font-weight="normal" font-style="normal" stroke="#2a2a2a" stroke-width="0.14">−10</text>
<line x1="233.40" y1="523.50" x2="233.40" y2="525.60" stroke="#2b2b2b" stroke-width="0.9"/>
<text x="233.40" y="534.50" font-size="5.9" text-anchor="middle" fill="#2a2a2a" font-weight="normal" font-style="normal" stroke="#2a2a2a" stroke-width="0.14">indolent</text>
<line x1="267.90" y1="523.50" x2="267.90" y2="525.60" stroke="#2b2b2b" stroke-width="0.9"/>
<text x="267.90" y="534.50" font-size="5.9" text-anchor="middle" fill="#2a2a2a" font-weight="normal" font-style="normal" stroke="#2a2a2a" stroke-width="0.14">progressive</text>
<line x1="296.90" y1="423.10" x2="296.90" y2="524.00" stroke="#2b2b2b" stroke-width="1.1"/>
<line x1="296.35" y1="523.50" x2="372.40" y2="523.50" stroke="#2b2b2b" stroke-width="1.1"/>
<line x1="294.70" y1="438.80" x2="296.90" y2="438.80" stroke="#2b2b2b" stroke-width="0.9"/>
<line x1="294.70" y1="465.80" x2="296.90" y2="465.80" stroke="#2b2b2b" stroke-width="0.9"/>
<line x1="294.70" y1="492.90" x2="296.90" y2="492.90" stroke="#2b2b2b" stroke-width="0.9"/>
<line x1="294.70" y1="519.90" x2="296.90" y2="519.90" stroke="#2b2b2b" stroke-width="0.9"/>
<line x1="317.50" y1="523.50" x2="317.50" y2="525.60" stroke="#2b2b2b" stroke-width="0.9"/>
<text x="317.50" y="534.50" font-size="5.9" text-anchor="middle" fill="#2a2a2a" font-weight="normal" font-style="normal" stroke="#2a2a2a" stroke-width="0.14">indolent</text>
<line x1="352.00" y1="523.50" x2="352.00" y2="525.60" stroke="#2b2b2b" stroke-width="0.9"/>
<text x="352.00" y="534.50" font-size="5.9" text-anchor="middle" fill="#2a2a2a" font-weight="normal" font-style="normal" stroke="#2a2a2a" stroke-width="0.14">progressive</text>
<line x1="381.90" y1="423.10" x2="381.90" y2="524.00" stroke="#2b2b2b" stroke-width="1.1"/>
<line x1="381.35" y1="523.50" x2="457.40" y2="523.50" stroke="#2b2b2b" stroke-width="1.1"/>
<line x1="379.70" y1="438.80" x2="381.90" y2="438.80" stroke="#2b2b2b" stroke-width="0.9"/>
<line x1="379.70" y1="465.80" x2="381.90" y2="465.80" stroke="#2b2b2b" stroke-width="0.9"/>
<line x1="379.70" y1="492.90" x2="381.90" y2="492.90" stroke="#2b2b2b" stroke-width="0.9"/>
<line x1="379.70" y1="519.90" x2="381.90" y2="519.90" stroke="#2b2b2b" stroke-width="0.9"/>
<line x1="402.50" y1="523.50" x2="402.50" y2="525.60" stroke="#2b2b2b" stroke-width="0.9"/>
<text x="402.50" y="534.50" font-size="5.9" text-anchor="middle" fill="#2a2a2a" font-weight="normal" font-style="normal" stroke="#2a2a2a" stroke-width="0.14">indolent</text>
<line x1="437.00" y1="523.50" x2="437.00" y2="525.60" stroke="#2b2b2b" stroke-width="0.9"/>
<text x="437.00" y="534.50" font-size="5.9" text-anchor="middle" fill="#2a2a2a" font-weight="normal" font-style="normal" stroke="#2a2a2a" stroke-width="0.14">progressive</text>
<text transform="translate(190.50,468.00) rotate(-90) scale(0.775,1)" font-size="7" text-anchor="middle" fill="#2a2a2a" font-weight="normal" stroke="#2a2a2a" stroke-width="0.2">Progression signature</text>
<text x="250.60" y="417.70" font-size="7.75" text-anchor="middle" fill="#2a2a2a" font-weight="normal" font-style="normal" stroke="#2a2a2a" stroke-width="0.14">Basal layer</text>
<text x="334.80" y="417.70" font-size="7.75" text-anchor="middle" fill="#2a2a2a" font-weight="normal" font-style="normal" stroke="#2a2a2a" stroke-width="0.14">Pautrier microabscess</text>
<text x="420.00" y="417.70" font-size="7.75" text-anchor="middle" fill="#2a2a2a" font-weight="normal" font-style="normal" stroke="#2a2a2a" stroke-width="0.14">Epidermis</text>
<text x="221.20" y="433.60" font-size="5.95" fill="#2a2a2a" text-anchor="start" stroke="#2a2a2a" stroke-width="0.14">Wilcoxon, <tspan font-style="italic">P</tspan> = .069</text>
<text x="302.70" y="433.60" font-size="5.95" fill="#2a2a2a" text-anchor="start" stroke="#2a2a2a" stroke-width="0.14">Wilcoxon, <tspan font-style="italic">P</tspan> = .34</text>
<text x="391.20" y="433.60" font-size="5.95" fill="#2a2a2a" text-anchor="start" stroke="#2a2a2a" stroke-width="0.14">Wilcoxon, <tspan font-style="italic">P</tspan> = .12</text>
<line x1="233.30" y1="491.30" x2="233.30" y2="510.10" stroke="#333" stroke-width="1.0"/>
<rect x="220.80" y="495.50" width="25.20" height="11.50" fill="#a6bc76"/>
<line x1="220.80" y1="501.30" x2="246.00" y2="501.30" stroke="#2d3a1a" stroke-width="1.3"/>
<circle cx="232.90" cy="476.50" r="0.65" fill="#333"/>
<circle cx="238.10" cy="476.50" r="0.65" fill="#333"/>
<circle cx="238.10" cy="491.30" r="0.65" fill="#333"/>
<circle cx="233.30" cy="497.00" r="0.65" fill="#2d3a1a"/>
<circle cx="227.00" cy="510.70" r="0.65" fill="#333"/>
<circle cx="240.90" cy="510.70" r="0.65" fill="#333"/>
<circle cx="240.30" cy="505.50" r="0.65" fill="#2d3a1a"/>
<line x1="267.80" y1="475.90" x2="267.80" y2="519.20" stroke="#333" stroke-width="1.0"/>
<rect x="255.50" y="487.90" width="25.00" height="19.10" fill="#8e86cc"/>
<line x1="255.50" y1="491.70" x2="280.50" y2="491.70" stroke="#2a2450" stroke-width="1.3"/>
<circle cx="274.00" cy="476.00" r="0.65" fill="#333"/>
<circle cx="273.00" cy="485.00" r="0.65" fill="#333"/>
<circle cx="262.90" cy="498.50" r="0.65" fill="#2a2450"/>
<circle cx="266.70" cy="491.70" r="0.65" fill="#2a2450"/>
<line x1="317.50" y1="489.20" x2="317.50" y2="514.20" stroke="#333" stroke-width="1.0"/>
<rect x="305.00" y="489.20" width="25.40" height="19.60" fill="#a6bc76"/>
<line x1="305.00" y1="498.80" x2="330.40" y2="498.80" stroke="#2d3a1a" stroke-width="1.3"/>
<circle cx="315.40" cy="488.80" r="0.65" fill="#333"/>
<circle cx="320.20" cy="487.00" r="0.65" fill="#333"/>
<circle cx="323.80" cy="507.00" r="0.65" fill="#2d3a1a"/>
<circle cx="326.40" cy="514.40" r="0.65" fill="#333"/>
<circle cx="317.30" cy="511.40" r="0.65" fill="#333"/>
<line x1="352.10" y1="427.90" x2="352.10" y2="495.60" stroke="#333" stroke-width="1.0"/>
<rect x="339.60" y="443.80" width="25.40" height="51.80" fill="#8e86cc"/>
<line x1="339.60" y1="472.00" x2="365.00" y2="472.00" stroke="#2a2450" stroke-width="1.3"/>
<circle cx="357.80" cy="427.40" r="0.65" fill="#333"/>
<circle cx="358.60" cy="448.60" r="0.65" fill="#2a2450"/>
<circle cx="351.20" cy="495.70" r="0.65" fill="#333"/>
<circle cx="357.50" cy="495.70" r="0.65" fill="#333"/>
<line x1="402.70" y1="484.40" x2="402.70" y2="510.00" stroke="#333" stroke-width="1.0"/>
<rect x="390.20" y="491.50" width="25.00" height="9.30" fill="#a6bc76"/>
<line x1="390.20" y1="494.60" x2="415.20" y2="494.60" stroke="#2d3a1a" stroke-width="1.3"/>
<circle cx="396.20" cy="484.00" r="0.65" fill="#333"/>
<circle cx="407.90" cy="484.80" r="0.65" fill="#333"/>
<circle cx="409.70" cy="493.20" r="0.65" fill="#2d3a1a"/>
<circle cx="410.40" cy="495.70" r="0.65" fill="#2d3a1a"/>
<circle cx="405.30" cy="508.90" r="0.65" fill="#333"/>
<circle cx="409.70" cy="507.00" r="0.65" fill="#333"/>
<circle cx="406.00" cy="498.60" r="0.65" fill="#2d3a1a"/>
<line x1="436.90" y1="479.60" x2="436.90" y2="489.60" stroke="#333" stroke-width="1.0"/>
<rect x="424.20" y="483.80" width="25.60" height="5.80" fill="#8e86cc"/>
<line x1="424.20" y1="489.20" x2="449.80" y2="489.20" stroke="#2a2450" stroke-width="1.3"/>
<circle cx="432.70" cy="478.60" r="0.65" fill="#333"/>
<circle cx="437.10" cy="481.10" r="0.65" fill="#333"/>
<circle cx="446.20" cy="486.60" r="0.65" fill="#2a2450"/>
<circle cx="433.50" cy="489.50" r="0.65" fill="#2a2450"/>
<circle cx="430.50" cy="503.40" r="0.65" fill="#333"/>
<circle cx="436.40" cy="503.40" r="0.65" fill="#333"/>
<text transform="translate(334.60,546.70) scale(0.64,1)" font-size="8.9" text-anchor="middle" fill="#2a2a2a" stroke="#2a2a2a" stroke-width="0.25">Group</text>
<text x="290.50" y="559.50" font-size="5.4" text-anchor="start" fill="#2a2a2a" font-weight="normal" font-style="normal" stroke="#2a2a2a" stroke-width="0.14">group</text>
<line x1="85.00" y1="555.80" x2="85.00" y2="561.00" stroke="#333" stroke-width="0.7"/>
<rect x="83.20" y="557.30" width="3.60" height="2.00" fill="#55652a"/>
<text x="90.30" y="559.60" font-size="5.4" text-anchor="start" fill="#2a2a2a" font-weight="normal" font-style="normal" stroke="#2a2a2a" stroke-width="0.14">indolent</text>
<line x1="117.40" y1="555.80" x2="117.40" y2="561.00" stroke="#333" stroke-width="0.7"/>
<rect x="115.60" y="557.30" width="3.60" height="2.00" fill="#36306a"/>
<text x="122.70" y="559.60" font-size="5.4" text-anchor="start" fill="#2a2a2a" font-weight="normal" font-style="normal" stroke="#2a2a2a" stroke-width="0.14">progressive</text>
<line x1="312.00" y1="555.80" x2="312.00" y2="561.00" stroke="#333" stroke-width="0.7"/>
<rect x="310.20" y="557.30" width="3.60" height="2.00" fill="#55652a"/>
<text x="317.30" y="559.60" font-size="5.4" text-anchor="start" fill="#2a2a2a" font-weight="normal" font-style="normal" stroke="#2a2a2a" stroke-width="0.14">indolent</text>
<line x1="344.20" y1="555.80" x2="344.20" y2="561.00" stroke="#333" stroke-width="0.7"/>
<rect x="342.40" y="557.30" width="3.60" height="2.00" fill="#36306a"/>
<text x="349.50" y="559.60" font-size="5.4" text-anchor="start" fill="#2a2a2a" font-weight="normal" font-style="normal" stroke="#2a2a2a" stroke-width="0.14">progressive</text>
<rect x="0" y="0" width="520" height="1.1" fill="#707070"/><rect x="0" y="0" width="1.1" height="568" fill="#707070"/><rect x="518.9" y="0" width="1.1" height="568" fill="#707070"/><rect x="0" y="566.9" width="520" height="1.1" fill="#707070"/>
</svg></body></html>
